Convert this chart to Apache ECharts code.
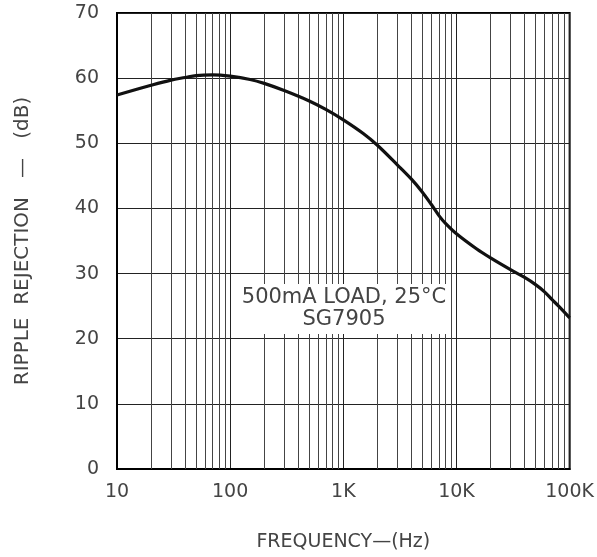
<!DOCTYPE html>
<html>
<head>
<meta charset="utf-8">
<script src="https://cdn.jsdelivr.net/npm/echarts@6/dist/echarts.min.js"></script>
<style>html,body{margin:0;padding:0;background:#fff}#c{width:597px;height:557px}</style>
</head>
<body>
<div id="c"></div>
<script>
// Data
var freqHz = [10, 20, 30, 40, 50, 70, 100, 150, 200, 300, 500, 700, 1000, 1500, 2000, 3000, 4000, 5000, 6000, 7000, 8000, 10000, 15000, 20000, 30000, 40000, 50000, 60000, 70000, 80000, 100000];
var rejectionDb = [57.4, 58.9, 59.7, 60.1, 60.4, 60.5, 60.3, 59.8, 59.2, 58.1, 56.5, 55.2, 53.6, 51.5, 49.7, 46.7, 44.5, 42.5, 40.6, 38.9, 37.7, 36.1, 33.8, 32.4, 30.6, 29.4, 28.3, 27.2, 26.0, 25.0, 23.2];
var minorGridHz = [20,30,40,50,60,70,80,90,200,300,400,500,600,700,800,900,2000,3000,4000,5000,6000,7000,8000,9000,20000,30000,40000,50000,60000,70000,80000,90000];
var xTickLabels = {10:'10', 100:'100', 1000:'1K', 10000:'10K', 100000:'100K'};
var annotationLines = ['500mA LOAD, 25°C', 'SG7905'];
var xName = 'FREQUENCY—(Hz)';
var yName = 'RIPPLE  REJECTION   —   (dB)';

var FONT = 'DejaVu Sans';
var TXT = '#444';
var chart = echarts.init(document.getElementById('c'), null, {renderer:'canvas'});
var pts = freqHz.map(function(f,i){return [f, rejectionDb[i]];});
chart.setOption({
  animation:false,
  backgroundColor:'#fff',
  grid:{left:117, right:23, top:13, bottom:85, show:true, borderColor:'#000', borderWidth:2, backgroundColor:'transparent'},
  xAxis:{
    type:'log', logBase:10, min:10, max:100000,
    name:xName, nameLocation:'middle', nameGap:64,
    nameTextStyle:{fontFamily:FONT, fontSize:19, color:TXT},
    axisLine:{show:true, lineStyle:{color:'#000', width:2}},
    axisTick:{show:false},
    axisLabel:{margin:14, fontFamily:FONT, fontSize:19, color:TXT,
      formatter:function(v){var r=Math.round(v); return xTickLabels[r]!==undefined?xTickLabels[r]:'';}},
    splitLine:{show:true, lineStyle:{color:'#222', width:1}},
    minorTick:{show:false}, minorSplitLine:{show:false}
  },
  yAxis:{
    type:'value', min:0, max:70, interval:10,
    name:yName, nameLocation:'middle', nameGap:84,
    nameTextStyle:{fontFamily:FONT, fontSize:20, color:TXT},
    axisLine:{show:true, lineStyle:{color:'#000', width:2}},
    axisTick:{show:false},
    axisLabel:{margin:18, fontFamily:FONT, fontSize:19, color:TXT},
    splitLine:{show:true, lineStyle:{color:'#222', width:1}}
  },
  series:[{
    type:'line', data:pts, smooth:0.35, showSymbol:false, symbol:'none',
    lineStyle:{color:'#111', width:3.2}, z:5,
    markLine:{silent:true, symbol:['none','none'], label:{show:false}, animation:false,
      lineStyle:{color:'#444', width:1, type:'solid'},
      data: minorGridHz.map(function(f){return {xAxis:f};})}
  }],
  graphic:[{
    type:'text', x:344, y:309, z:100,
    style:{text:annotationLines.join('\n'), font:'21px "DejaVu Sans"', fill:TXT,
      align:'center', verticalAlign:'middle', lineHeight:22,
      backgroundColor:'#fff', padding:[3,3,3,3]}
  }]
});
</script>
</body>
</html>
